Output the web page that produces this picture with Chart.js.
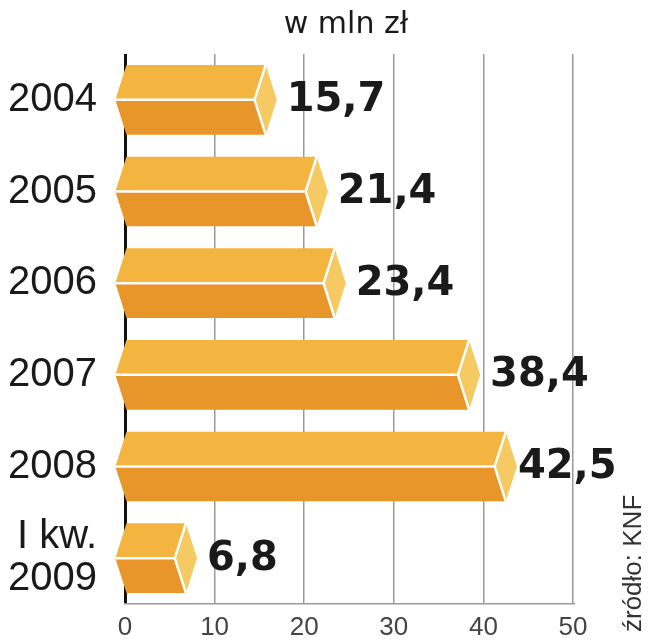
<!DOCTYPE html>
<html>
<head>
<meta charset="utf-8">
<script src="https://cdn.jsdelivr.net/npm/chart.js@4.4.1/dist/chart.umd.min.js"></script>
<style>
  html, body { margin: 0; padding: 0; background: #fff; }
  #wrap { width: 648px; height: 640px; position: relative; }
</style>
</head>
<body>
<div id="wrap"><canvas id="chartKnf"></canvas></div>
<script>
// dane z wykresu (w mln zł)
var kategorie = ["2004", "2005", "2006", "2007", "2008", ["I kw.", "2009"]];
var wartosci = [15.7, 21.4, 23.4, 38.4, 42.5, 6.8];
var tickiX = [0, 10, 20, 30, 40, 50];

var KOLOR_GORA = "#f3b440";
var KOLOR_DOL = "#e8952a";
var KOLOR_CZOLO = "#f6ca63";

// rysuje słupki jako "graniastosłupy" na podstawie elementów Chart.js
var pryzmy = {
  id: "pryzmy",
  afterDatasetsDraw: function (chart) {
    var ctx = chart.ctx;
    var meta = chart.getDatasetMeta(0);
    ctx.save();
    meta.data.forEach(function (bar, i) {
      var x0 = bar.base;
      var x1 = bar.x;
      var yc = bar.y;
      var h = bar.height;
      var yt = yc - h / 2;
      var yb = yc + h / 2;
      var d = h * 0.16;

      // górna połowa
      ctx.fillStyle = KOLOR_GORA;
      ctx.beginPath();
      ctx.moveTo(x0, yt);
      ctx.lineTo(x1, yt);
      ctx.lineTo(x1 - d, yc);
      ctx.lineTo(x0 - d, yc);
      ctx.closePath();
      ctx.fill();

      // dolna połowa
      ctx.fillStyle = KOLOR_DOL;
      ctx.beginPath();
      ctx.moveTo(x0 - d, yc);
      ctx.lineTo(x1 - d, yc);
      ctx.lineTo(x1, yb);
      ctx.lineTo(x0, yb);
      ctx.closePath();
      ctx.fill();

      // czoło
      ctx.fillStyle = KOLOR_CZOLO;
      ctx.beginPath();
      ctx.moveTo(x1, yt);
      ctx.lineTo(x1 + d, yc);
      ctx.lineTo(x1, yb);
      ctx.lineTo(x1 - d, yc);
      ctx.closePath();
      ctx.fill();

      // białe krawędzie
      ctx.strokeStyle = "#ffffff";
      ctx.lineWidth = 2.5;
      ctx.lineJoin = "miter";
      ctx.beginPath();
      ctx.moveTo(x0 - d, yc);
      ctx.lineTo(x1 - d, yc);
      ctx.moveTo(x1, yt);
      ctx.lineTo(x1 - d, yc);
      ctx.lineTo(x1, yb);
      ctx.stroke();

      // wartość (przy prawej krawędzi dosuwana do czoła)
      ctx.fillStyle = "#1a1a1a";
      ctx.font = "bold 40px 'DejaVu Sans'";
      ctx.textAlign = "left";
      ctx.textBaseline = "middle";
      var txt = wartosci[i].toFixed(1).replace(".", ",");
      var w = ctx.measureText(txt).width;
      var tx = Math.min(x1 + 21, 615 - w);
      tx = Math.max(tx, x1 + d + 1);
      ctx.fillText(txt, tx, yc + 1);
    });

    // tytuł
    var area = chart.chartArea;
    ctx.fillStyle = "#1a1a1a";
    ctx.font = "30px 'DejaVu Sans'";
    ctx.textAlign = "center";
    ctx.textBaseline = "alphabetic";
    ctx.fillText("w mln zł", (area.left + area.right) / 2 - 3, 33);

    // źródło
    ctx.translate(641, 632);
    ctx.rotate(-Math.PI / 2);
    ctx.fillStyle = "#333333";
    ctx.font = "26px 'Liberation Sans'";
    ctx.textAlign = "left";
    ctx.textBaseline = "alphabetic";
    ctx.fillText("źródło: KNF", 0, 0);
    ctx.restore();
  }
};

document.addEventListener("DOMContentLoaded", function () {
  var ctx = document.getElementById("chartKnf").getContext("2d");

  new Chart(ctx, {
    type: "bar",
    data: {
      labels: kategorie,
      datasets: [
        {
          data: wartosci,
          backgroundColor: "rgba(0,0,0,0)",
          borderWidth: 0,
          barPercentage: 0.76,
          categoryPercentage: 1
        }
      ]
    },
    plugins: [pryzmy],
    options: {
      indexAxis: "y",
      responsive: true,
      maintainAspectRatio: false,
      animation: false,
      layout: { padding: { top: 54, right: 75, left: 0, bottom: 0 } },
      plugins: {
        legend: { display: false },
        tooltip: { enabled: false }
      },
      scales: {
        x: {
          min: 0,
          max: 50,
          afterFit: function (s) {
            s.height = 36;
            s.paddingLeft = 0;
            s.paddingRight = 0;
          },
          afterBuildTicks: function (s) {
            s.ticks = tickiX.map(function (v) { return { value: v }; });
          },
          grid: {
            drawTicks: false,
            color: function (c) { return c.tick && c.tick.value === 0 ? "#111111" : "#9a9a9a"; },
            lineWidth: function (c) { return c.tick && c.tick.value === 0 ? 3 : 1.5; }
          },
          border: { display: true, color: "#9a9a9a", width: 1.5 },
          ticks: {
            padding: 8,
            color: "#444444",
            font: { family: "'Liberation Sans'", size: 26 }
          }
        },
        y: {
          afterFit: function (s) {
            s.width = 125;
            s.paddingTop = 0;
            s.paddingBottom = 0;
          },
          grid: { display: false, drawTicks: false },
          border: { display: false },
          ticks: {
            padding: 28,
            color: "#1a1a1a",
            font: { family: "'Liberation Sans'", size: 40, lineHeight: 1.05 }
          }
        }
      }
    }
  });
});
</script>
</body>
</html>
